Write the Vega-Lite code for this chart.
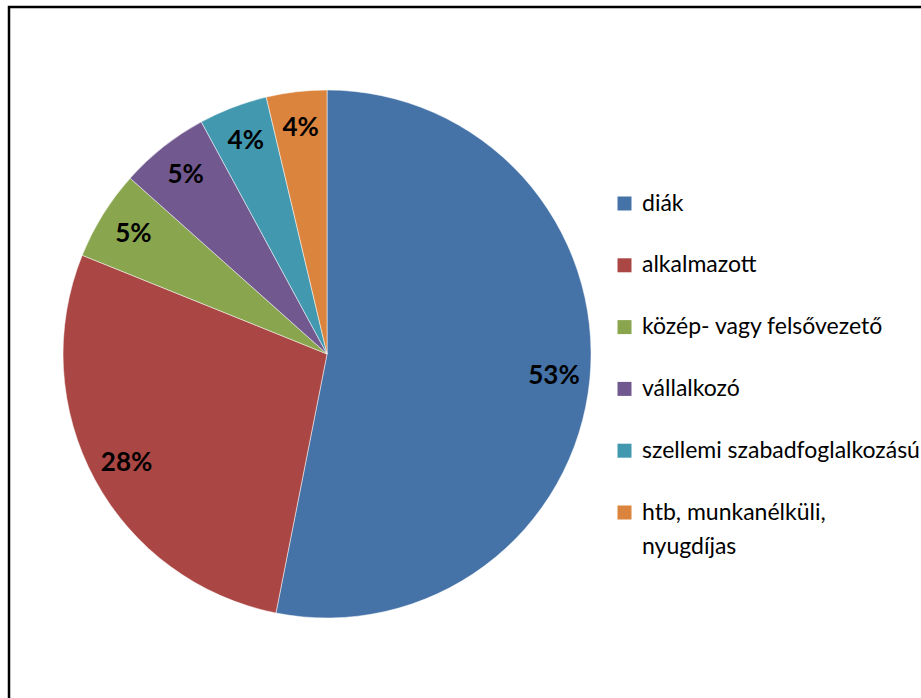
{
  "$schema": "https://vega.github.io/schema/vega-lite/v6.json",
  "autosize": {"type": "none"},
  "padding": {"left": 9, "top": 7, "right": 0, "bottom": 0},
  "width": 920,
  "height": 700,
  "background": "white",
  "config": {
    "view": {"stroke": "black", "strokeWidth": 2.5},
    "font": "Lato",
    "style": {"guide-label": {"lineHeight": 34}}
  },
  "data": {
    "values": [
      {"category": "diák", "value": 53.1, "label": "53%", "order": 1},
      {"category": "alkalmazott", "value": 28.0, "label": "28%", "order": 2},
      {"category": "közép- vagy felsővezető", "value": 5.5, "label": "5%", "order": 3},
      {"category": "vállalkozó", "value": 5.5, "label": "5%", "order": 4},
      {"category": "szellemi szabadfoglalkozású", "value": 4.2, "label": "4%", "order": 5},
      {"category": "htb, munkanélküli, nyugdíjas", "value": 3.7, "label": "4%", "order": 6}
    ]
  },
  "encoding": {
    "theta": {"field": "value", "type": "quantitative", "stack": true},
    "order": {"field": "order", "type": "quantitative"},
    "x": {"datum": 0.3457, "type": "quantitative", "scale": {"domain": [0, 1]}, "axis": null},
    "y": {"datum": 0.5043, "type": "quantitative", "scale": {"domain": [0, 1]}, "axis": null},
    "color": {
      "field": "category",
      "type": "nominal",
      "sort": null,
      "scale": {
        "domain": ["diák", "alkalmazott", "közép- vagy felsővezető", "vállalkozó", "szellemi szabadfoglalkozású", "htb, munkanélküli, nyugdíjas"],
        "range": ["#4572A7", "#AA4643", "#89A54E", "#71588F", "#4198AF", "#DB843D"]
      },
      "legend": {
        "title": null,
        "orient": "none",
        "legendX": 604,
        "legendY": 185,
        "padding": 0,
        "symbolType": "square",
        "symbolSize": 196,
        "symbolStrokeWidth": 0,
        "labelFontSize": 23,
        "labelFont": "Lato",
        "labelColor": "black",
        "labelOffset": 6,
        "labelLimit": 1000,
        "rowPadding": 37.8,
        "labelExpr": "datum.label == 'htb, munkanélküli, nyugdíjas' ? ['htb, munkanélküli,', 'nyugdíjas'] : datum.label"
      }
    }
  },
  "layer": [
    {
      "mark": {"type": "arc", "radius": 264, "stroke": "white", "strokeWidth": 0.5}
    },
    {
      "mark": {"type": "text", "radius": 228, "fontSize": 26, "fontWeight": "bold", "font": "Lato", "color": "black", "align": "center", "baseline": "middle"},
      "encoding": {
        "text": {"field": "label", "type": "nominal"},
        "color": {"value": "black"}
      }
    }
  ]
}
